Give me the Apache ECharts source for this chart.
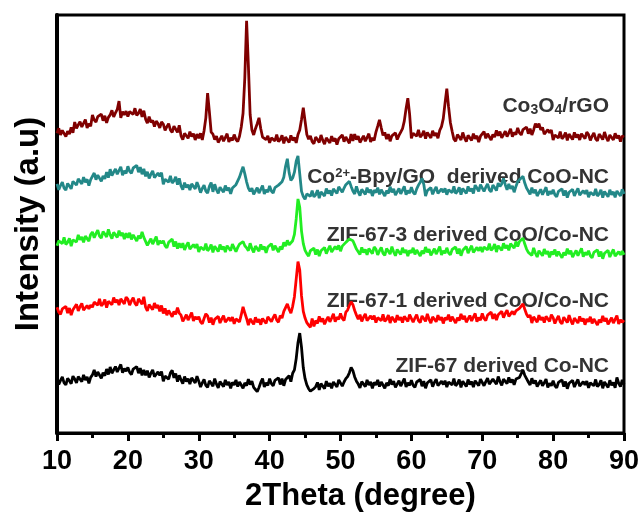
<!DOCTYPE html>
<html>
<head>
<meta charset="utf-8">
<script src="https://cdn.jsdelivr.net/npm/echarts@6/dist/echarts.min.js"></script>
<style>
  html, body { margin: 0; padding: 0; background: #fff; }
  #chart { width: 644px; height: 517px; }
</style>
</head>
<body>
<div id="chart"></div>
<script>
// XRD patterns, stacked with vertical offsets (a.u.), sampled every 0.25 degree from 10 to 90
const twoThetaStart = 10;
const twoThetaStep = 0.25;
const xTicks = [10, 20, 30, 40, 50, 60, 70, 80, 90];

const zif67CoNC = [
  13.0, 11.6, 12.6, 13.4, 12.0, 11.5, 13.1, 12.5, 11.8, 13.6, 12.9, 12.0, 13.5, 13.2, 12.3, 13.9, 12.7, 13.4, 11.9, 13.3,
  13.9, 15.1, 13.5, 14.6, 15.0, 13.1, 14.4, 13.7, 15.3, 14.0, 15.8, 14.3, 15.1, 15.9, 14.6, 15.5, 16.4, 14.4, 15.4, 14.8,
  15.7, 14.5, 14.0, 15.3, 15.0, 15.9, 14.3, 15.5, 13.8, 15.1, 13.8, 14.9, 13.3, 14.3, 15.1, 13.5, 13.1, 14.6, 13.8, 14.7,
  12.4, 13.6, 14.0, 12.9, 14.4, 15.0, 13.2, 14.2, 12.3, 13.8, 12.7, 11.8, 13.5, 12.3, 13.0, 11.7, 13.2, 12.8, 12.0, 13.6,
  12.4, 11.0, 12.0, 12.8, 11.4, 10.9, 12.5, 11.9, 11.2, 13.0, 11.7, 10.8, 12.3, 12.0, 11.1, 12.7, 11.5, 12.2, 10.7, 12.1,
  11.5, 12.7, 11.1, 12.2, 12.6, 10.7, 12.0, 11.3, 12.9, 11.6, 12.4, 10.9, 10.4, 9.9, 10.9, 12.1, 13.0, 11.0, 12.0, 11.4,
  13.0, 11.8, 11.3, 12.6, 12.3, 13.2, 11.6, 13.0, 11.3, 12.8, 12.6, 13.7, 12.3, 14.3, 15.1, 17.8, 21.6, 23.9, 20.5, 15.6,
  13.0, 11.5, 10.6, 10.0, 9.7, 10.6, 11.1, 12.1, 10.3, 11.8, 11.5, 10.6, 12.4, 11.2, 11.9, 10.7, 12.2, 11.8, 11.0, 12.7,
  12.6, 11.2, 12.2, 13.0, 13.5, 14.4, 15.7, 14.9, 13.4, 12.4, 11.7, 10.8, 12.3, 12.0, 11.1, 12.7, 11.5, 12.2, 10.7, 12.1,
  11.5, 12.7, 11.1, 12.2, 12.6, 10.7, 12.0, 11.3, 12.9, 11.6, 12.4, 10.9, 11.7, 12.5, 11.2, 12.1, 13.0, 11.0, 12.0, 11.4,
  12.6, 11.4, 10.9, 12.2, 11.9, 12.8, 11.2, 12.4, 10.7, 12.0, 11.6, 12.7, 11.1, 12.1, 12.9, 11.3, 10.9, 12.4, 11.6, 12.5,
  11.0, 12.2, 12.6, 11.5, 13.0, 11.3, 11.8, 12.8, 10.9, 12.4, 12.0, 11.1, 12.8, 11.6, 12.3, 11.0, 12.5, 12.1, 11.3, 12.9,
  12.7, 11.3, 12.3, 13.1, 11.7, 11.3, 12.9, 12.3, 11.7, 13.5, 12.3, 11.4, 12.9, 12.6, 11.8, 13.3, 12.1, 12.8, 11.5, 12.9,
  12.7, 13.3, 14.2, 15.0, 13.8, 13.0, 12.2, 11.5, 13.1, 11.8, 12.6, 11.1, 11.9, 12.6, 11.3, 12.0, 12.9, 10.9, 11.9, 11.3,
  12.5, 11.3, 10.8, 12.1, 11.8, 12.7, 11.1, 12.3, 10.6, 11.9, 11.5, 12.6, 11.0, 12.0, 12.8, 11.2, 10.8, 12.3, 11.5, 12.4,
  10.8, 12.0, 12.4, 11.3, 12.8, 11.1, 11.6, 12.6, 10.7, 12.2, 11.8, 10.9, 12.6, 11.4, 12.1, 10.8, 13.3, 11.9, 11.1, 12.7, 11.6
];

const zif671CoO = [
  30.1, 28.9, 28.4, 29.7, 29.4, 30.3, 28.7, 29.9, 28.2, 29.5, 29.7, 30.8, 29.2, 30.2, 31.0, 29.4, 29.0, 30.5, 29.7, 30.6,
  30.1, 31.3, 31.7, 30.6, 32.1, 30.4, 30.9, 31.9, 30.0, 31.5, 31.6, 30.7, 32.4, 31.2, 31.9, 30.6, 32.1, 31.7, 30.9, 32.5,
  32.0, 30.6, 31.6, 32.4, 31.0, 30.5, 32.1, 31.5, 30.8, 32.6, 30.1, 29.2, 30.7, 30.4, 29.5, 31.1, 29.9, 30.6, 29.1, 30.5,
  28.6, 29.8, 28.2, 29.3, 29.7, 27.8, 29.1, 28.4, 30.0, 28.7, 28.2, 26.7, 27.5, 28.3, 27.0, 27.9, 28.8, 26.8, 27.8, 27.2,
  27.8, 26.6, 26.1, 27.4, 28.5, 28.0, 26.4, 27.6, 25.9, 27.2, 26.8, 27.9, 26.3, 27.3, 28.1, 26.5, 26.1, 27.6, 26.8, 27.7,
  26.1, 27.3, 27.7, 26.6, 28.3, 30.2, 28.7, 27.4, 25.8, 27.3, 26.9, 26.0, 27.7, 26.5, 27.2, 25.9, 27.4, 27.0, 26.2, 27.8,
  28.0, 26.6, 27.6, 28.4, 27.0, 26.5, 28.1, 27.5, 29.1, 30.0, 30.9, 29.6, 28.7, 30.3, 32.6, 36.8, 41.0, 39.0, 32.8, 29.1,
  27.5, 26.4, 25.8, 25.3, 27.4, 25.5, 26.9, 26.2, 27.9, 26.6, 27.4, 26.0, 27.0, 27.8, 26.6, 27.5, 28.5, 26.6, 27.7, 27.2,
  28.6, 27.4, 26.9, 28.9, 29.4, 30.5, 31.4, 30.7, 29.3, 28.2, 27.2, 28.3, 26.7, 27.7, 28.5, 26.9, 26.5, 28.0, 27.2, 28.1,
  26.4, 27.6, 28.0, 26.9, 28.4, 26.7, 27.2, 28.2, 26.3, 27.8, 27.4, 26.5, 28.2, 27.0, 27.7, 26.4, 27.9, 27.5, 26.7, 28.3,
  27.9, 26.5, 27.5, 28.3, 26.9, 26.4, 28.0, 27.4, 26.7, 28.5, 27.2, 26.3, 27.8, 27.5, 26.6, 28.2, 27.0, 27.7, 26.2, 27.6,
  27.1, 28.3, 26.7, 27.8, 28.2, 26.3, 27.6, 26.9, 28.5, 27.2, 28.0, 26.5, 27.3, 28.1, 26.8, 27.7, 28.6, 26.6, 27.6, 27.0,
  28.6, 27.4, 26.9, 28.2, 27.9, 28.9, 27.3, 28.5, 27.0, 28.3, 28.0, 29.1, 27.6, 28.6, 29.4, 27.9, 27.6, 29.1, 28.3, 29.2,
  28.8, 29.8, 30.2, 30.9, 29.6, 28.4, 27.7, 28.2, 26.3, 27.8, 27.4, 26.5, 28.2, 27.0, 27.7, 26.4, 27.9, 27.5, 26.7, 28.3,
  27.6, 26.2, 27.2, 28.0, 26.6, 26.1, 27.7, 27.1, 26.4, 28.2, 26.9, 26.0, 27.5, 27.2, 26.3, 27.9, 26.7, 27.4, 25.9, 27.3,
  26.6, 27.8, 26.2, 27.3, 27.7, 25.8, 27.1, 26.4, 28.0, 26.7, 27.5, 26.0, 26.8, 27.6, 26.3, 27.2, 28.1, 26.1, 27.1, 26.5, 27.0
];

const zif673CoO = [
  44.8, 46.0, 46.4, 45.3, 46.8, 45.1, 45.6, 46.6, 44.7, 46.2, 46.6, 45.7, 47.4, 46.2, 46.9, 45.6, 47.1, 46.7, 45.9, 47.5,
  48.1, 46.7, 47.7, 48.5, 47.1, 46.6, 48.2, 47.6, 46.9, 48.7, 47.4, 46.5, 48.0, 47.7, 46.8, 48.4, 47.2, 47.9, 46.4, 47.8,
  46.7, 47.9, 46.3, 47.4, 47.8, 45.9, 47.2, 46.5, 48.1, 46.8, 46.4, 44.9, 45.7, 46.5, 45.2, 46.1, 47.0, 45.0, 46.0, 45.4,
  46.0, 44.8, 44.3, 45.6, 45.3, 46.4, 44.6, 45.8, 44.1, 45.4, 44.3, 45.4, 43.8, 44.8, 45.6, 44.0, 43.6, 45.1, 44.3, 45.2,
  43.3, 44.5, 44.9, 43.8, 45.3, 43.6, 44.1, 45.1, 43.2, 44.7, 44.3, 43.4, 45.1, 43.9, 44.6, 43.3, 44.8, 44.4, 43.6, 45.2,
  44.8, 43.4, 44.4, 45.2, 45.2, 45.8, 44.8, 44.3, 43.6, 45.4, 44.1, 43.2, 44.7, 44.4, 43.5, 45.1, 43.9, 44.6, 43.1, 44.5,
  44.1, 45.3, 43.7, 44.8, 45.2, 43.3, 44.6, 43.9, 45.6, 44.7, 46.1, 45.0, 44.6, 46.0, 47.5, 51.2, 56.0, 54.0, 48.3, 45.3,
  43.7, 42.9, 42.3, 43.6, 43.3, 44.2, 42.7, 43.9, 42.3, 43.6, 43.3, 44.4, 42.9, 43.9, 44.8, 43.3, 43.0, 44.6, 43.9, 44.9,
  43.5, 44.7, 45.1, 45.6, 45.9, 46.4, 46.8, 46.0, 45.0, 44.0, 43.6, 42.7, 44.4, 43.2, 43.9, 42.6, 44.1, 43.7, 42.9, 44.5,
  44.0, 42.6, 43.6, 44.4, 43.0, 42.5, 44.1, 43.5, 42.8, 44.6, 43.3, 42.4, 43.9, 43.6, 42.7, 44.3, 43.1, 43.8, 42.3, 43.7,
  43.1, 44.3, 42.7, 43.8, 44.2, 42.3, 43.6, 42.9, 44.5, 43.2, 44.0, 42.5, 43.3, 44.1, 42.8, 43.7, 44.6, 42.6, 43.6, 43.0,
  44.3, 43.1, 42.6, 43.9, 43.6, 44.5, 42.9, 44.1, 42.4, 43.7, 43.5, 44.6, 43.0, 44.0, 44.8, 43.2, 42.9, 44.4, 43.6, 44.5,
  43.3, 44.5, 44.9, 43.8, 45.3, 43.7, 44.2, 45.2, 43.3, 44.8, 44.6, 43.7, 45.4, 44.2, 44.9, 43.7, 45.3, 44.9, 44.2, 45.8,
  44.6, 45.8, 46.0, 46.6, 45.2, 44.0, 43.2, 43.2, 42.5, 44.3, 43.0, 42.1, 43.6, 43.3, 42.4, 44.0, 42.8, 43.5, 42.0, 43.4,
  42.7, 43.9, 42.3, 43.4, 43.8, 41.9, 43.2, 42.5, 44.1, 42.8, 43.6, 42.1, 42.9, 43.7, 42.4, 43.3, 44.2, 42.2, 43.2, 42.6,
  43.6, 42.4, 41.9, 43.2, 42.9, 43.8, 42.2, 43.4, 41.7, 43.0, 42.6, 43.7, 42.1, 43.1, 43.9, 42.3, 41.9, 43.4, 42.6, 43.5, 42.6
];

const bpyGoCoO = [
  59.6, 58.2, 59.2, 60.0, 58.6, 58.1, 59.7, 59.1, 58.4, 60.2, 60.2, 59.3, 60.8, 60.5, 59.6, 61.2, 60.0, 60.7, 59.2, 60.6,
  61.0, 62.2, 60.6, 61.7, 62.1, 60.2, 61.5, 60.8, 62.4, 61.1, 63.1, 61.6, 62.4, 63.2, 61.9, 62.8, 63.7, 61.7, 62.7, 62.1,
  63.8, 62.6, 62.1, 63.4, 63.1, 64.0, 62.4, 63.6, 61.9, 63.2, 61.4, 62.5, 60.9, 61.9, 62.7, 61.1, 60.7, 62.2, 61.4, 62.3,
  59.5, 60.7, 61.1, 60.0, 61.5, 59.8, 60.3, 61.3, 59.4, 60.9, 59.1, 58.2, 59.9, 58.7, 59.4, 58.1, 59.6, 59.2, 58.4, 60.0,
  58.9, 57.5, 58.5, 59.3, 57.9, 57.4, 59.0, 59.9, 57.7, 59.5, 58.2, 57.3, 58.8, 58.5, 57.6, 59.2, 58.0, 58.7, 57.2, 58.6,
  58.2, 59.4, 59.8, 61.2, 62.5, 63.7, 62.0, 60.1, 58.6, 57.8, 58.6, 57.1, 57.9, 58.7, 57.4, 58.3, 59.2, 57.2, 58.2, 57.6,
  59.1, 57.9, 57.4, 58.7, 58.4, 59.3, 58.9, 60.1, 61.2, 63.8, 65.6, 62.3, 60.4, 61.0, 62.4, 65.0, 66.3, 62.0, 57.8, 56.6,
  55.9, 57.2, 57.6, 56.6, 58.0, 56.5, 57.0, 58.1, 56.2, 57.7, 57.5, 56.7, 58.5, 57.3, 58.0, 56.8, 58.4, 58.1, 57.3, 58.9,
  59.0, 57.6, 58.6, 59.4, 59.6, 60.2, 59.0, 57.9, 57.2, 59.0, 57.7, 56.8, 58.3, 58.0, 57.1, 58.7, 57.5, 58.2, 56.7, 58.1,
  57.5, 58.7, 57.1, 58.2, 58.6, 56.7, 58.0, 57.3, 58.9, 57.6, 58.4, 56.9, 57.7, 58.5, 57.2, 58.1, 59.0, 57.0, 58.0, 57.4,
  58.8, 57.6, 57.1, 58.4, 59.3, 60.0, 60.9, 59.5, 56.7, 58.0, 57.6, 58.7, 57.1, 58.1, 58.9, 57.3, 56.9, 58.4, 57.6, 58.5,
  57.0, 58.2, 58.6, 57.5, 59.0, 57.3, 57.8, 58.8, 57.0, 58.5, 58.2, 57.3, 59.0, 57.8, 58.5, 57.3, 59.3, 58.6, 57.8, 59.4,
  59.2, 57.8, 58.8, 59.6, 58.2, 57.7, 59.3, 58.7, 58.0, 59.8, 59.0, 59.6, 60.9, 59.4, 58.2, 59.6, 58.4, 59.1, 57.6, 59.0,
  60.1, 60.6, 61.0, 61.4, 59.8, 58.6, 57.9, 57.1, 58.7, 57.4, 58.2, 56.7, 57.5, 58.3, 57.0, 57.9, 58.8, 56.8, 57.8, 57.2,
  58.2, 57.0, 56.5, 57.8, 57.5, 58.4, 56.8, 58.0, 56.3, 57.6, 57.2, 58.3, 56.7, 57.7, 58.5, 56.9, 56.5, 58.0, 57.2, 58.1,
  56.4, 57.6, 58.0, 56.9, 58.4, 56.7, 57.2, 58.2, 56.3, 57.8, 57.4, 56.5, 58.2, 57.0, 57.7, 56.4, 57.9, 57.5, 56.7, 58.3, 57.2
];

const co3o4rGO = [
  71.7, 72.9, 71.3, 72.4, 72.8, 70.9, 72.2, 71.5, 73.1, 71.8, 74.4, 72.9, 73.7, 74.5, 73.2, 74.1, 75.0, 73.0, 74.0, 73.4,
  76.1, 74.9, 74.4, 75.7, 75.4, 76.3, 74.7, 75.9, 74.2, 75.5, 76.1, 77.2, 75.6, 76.6, 77.4, 79.4, 75.4, 76.9, 76.1, 77.0,
  75.7, 76.9, 77.3, 76.2, 77.7, 76.0, 76.5, 77.5, 75.6, 77.1, 75.1, 74.1, 75.7, 74.3, 74.8, 73.3, 74.6, 74.0, 73.0, 74.4,
  73.9, 72.4, 73.3, 74.0, 72.5, 71.9, 73.4, 72.7, 71.9, 73.6, 71.1, 70.2, 71.7, 71.4, 70.5, 72.1, 70.9, 71.6, 70.1, 71.5,
  70.5, 71.7, 70.1, 72.3, 75.4, 81.3, 76.8, 72.0, 71.5, 70.2, 71.0, 69.5, 70.3, 71.1, 69.8, 70.7, 71.6, 69.6, 70.6, 70.0,
  71.4, 70.2, 69.7, 71.0, 73.2, 76.5, 85.0, 98.6, 88.0, 76.2, 72.5, 71.3, 72.8, 74.0, 75.4, 72.8, 70.8, 71.0, 70.2, 71.1,
  69.4, 70.6, 71.0, 69.9, 71.4, 69.7, 70.2, 71.2, 69.3, 70.8, 70.4, 69.5, 71.2, 70.0, 70.7, 69.4, 71.4, 72.5, 75.0, 77.8,
  74.6, 71.4, 70.3, 71.1, 69.7, 69.2, 70.8, 70.2, 69.5, 71.3, 70.0, 69.1, 70.6, 70.3, 69.4, 71.0, 69.8, 70.5, 69.0, 70.4,
  70.1, 71.3, 69.7, 70.8, 71.2, 69.3, 71.5, 69.9, 71.5, 70.2, 71.0, 69.5, 70.3, 71.1, 69.8, 70.7, 71.6, 69.6, 70.6, 70.0,
  72.0, 73.4, 74.9, 73.0, 71.2, 71.9, 70.3, 71.5, 69.8, 71.1, 70.7, 71.8, 70.2, 71.2, 72.0, 72.8, 74.6, 77.6, 80.1, 76.3,
  70.5, 71.7, 72.1, 71.0, 72.5, 70.8, 71.3, 72.3, 70.4, 71.9, 71.5, 70.6, 72.3, 71.1, 71.8, 70.5, 72.4, 73.3, 75.2, 78.9,
  82.4, 78.0, 74.3, 72.2, 70.3, 69.8, 71.4, 70.8, 70.1, 71.9, 70.6, 69.7, 71.2, 70.9, 70.0, 71.6, 70.4, 71.1, 69.6, 71.0,
  70.9, 72.1, 70.5, 71.6, 72.0, 70.1, 71.4, 70.8, 72.4, 71.1, 72.1, 70.6, 71.4, 72.2, 70.9, 71.8, 72.8, 70.9, 71.9, 71.4,
  73.0, 71.8, 71.3, 72.6, 72.3, 73.2, 71.6, 72.8, 71.3, 72.5, 74.0, 73.1, 74.0, 72.5, 73.1, 71.5, 71.1, 72.6, 71.8, 72.5,
  70.1, 71.3, 71.7, 70.6, 72.1, 70.4, 70.9, 71.9, 70.0, 71.5, 71.1, 70.2, 71.9, 70.7, 71.4, 70.1, 71.6, 71.2, 70.4, 72.0,
  71.4, 70.0, 71.0, 71.8, 70.4, 69.9, 71.5, 70.9, 70.2, 72.0, 70.7, 69.8, 71.3, 71.0, 70.1, 71.7, 70.5, 71.2, 69.7, 71.1, 70.8
];

const seriesList = [
  { name: 'ZIF-67 derived Co-NC', values: zif67CoNC, color: '#000000' },
  { name: 'ZIF-67-1 derived CoO/Co-NC', values: zif671CoO, color: '#ff0000' },
  { name: 'ZIF-67-3 derived CoO/Co-NC', values: zif673CoO, color: '#22ee22' },
  { name: 'Co2+-Bpy/GO derived CoO-NC', values: bpyGoCoO, color: '#238888' },
  { name: 'Co3O4/rGO', values: co3o4rGO, color: '#800000' }
];

function toPairs(values) {
  return values.map((v, i) => [twoThetaStart + i * twoThetaStep, v]);
}

const chart = echarts.init(document.getElementById('chart'), null, { renderer: 'canvas' });

const labelFont = 'bold 21px "Liberation Sans", Arial, sans-serif';
function curveLabel(text, y, rich) {
  return {
    type: 'text',
    right: 644 - 609,
    top: y,
    style: {
      text: text,
      font: labelFont,
      fill: '#333333',
      align: 'right',
      verticalAlign: 'middle',
      rich: rich || undefined
    }
  };
}

const option = {
  backgroundColor: '#ffffff',
  animation: false,
  grid: {
    left: 57, right: 20, top: 15, bottom: 75,
    show: true, borderColor: '#000', borderWidth: 3
  },
  xAxis: {
    type: 'value',
    min: 10, max: 90, interval: 10,
    name: '2Theta (degree)',
    nameLocation: 'middle',
    nameGap: 48,
    nameTextStyle: {
      fontFamily: 'Liberation Sans', fontWeight: 'bold', fontSize: 31, color: '#000',
      padding: [0, 0, 0, 40]
    },
    axisLine: { lineStyle: { color: '#000', width: 3 } },
    axisTick: { show: true, inside: false, length: 8, lineStyle: { width: 3, color: '#000' } },
    minorTick: { show: true, splitNumber: 2, length: 5, lineStyle: { width: 3, color: '#000' } },
    axisLabel: {
      fontFamily: 'Liberation Sans', fontWeight: 'bold', fontSize: 27, color: '#000', margin: 15,
      formatter: v => (xTicks.includes(v) ? String(v) : '')
    },
    splitLine: { show: false }
  },
  yAxis: {
    type: 'value',
    min: 0, max: 100,
    name: 'Intensity (a.u)',
    nameLocation: 'middle',
    nameGap: 12,
    nameRotate: 90,
    nameTextStyle: { fontFamily: 'Liberation Sans', fontWeight: 'bold', fontSize: 33, color: '#000' },
    axisLine: { show: true, lineStyle: { color: '#000', width: 4 } },
    axisTick: { show: false },
    axisLabel: { show: false },
    splitLine: { show: false }
  },
  series: seriesList.map(s => ({
    name: s.name,
    type: 'line',
    data: toPairs(s.values),
    showSymbol: false,
    smooth: false,
    lineStyle: { color: s.color, width: 2.8 },
    itemStyle: { color: s.color },
    z: 3
  })),
  graphic: [
    curveLabel('Co{sub|3}O{sub|4}/rGO', 96, {
      sub: { font: 'bold 14px "Liberation Sans", Arial, sans-serif', fill: '#333333', verticalAlign: 'bottom', padding: [8, 0, 0, 0] }
    }),
    curveLabel('Co{sup|2+}-Bpy/GO  derived CoO-NC', 167, {
      sup: { font: 'bold 13px "Liberation Sans", Arial, sans-serif', fill: '#333333', verticalAlign: 'top', padding: [0, 0, 8, 0] }
    }),
    curveLabel('ZIF-67-3 derived CoO/Co-NC', 225),
    curveLabel('ZIF-67-1 derived CoO/Co-NC', 291),
    curveLabel('ZIF-67 derived Co-NC', 356)
  ]
};

chart.setOption(option);
</script>
</body>
</html>
